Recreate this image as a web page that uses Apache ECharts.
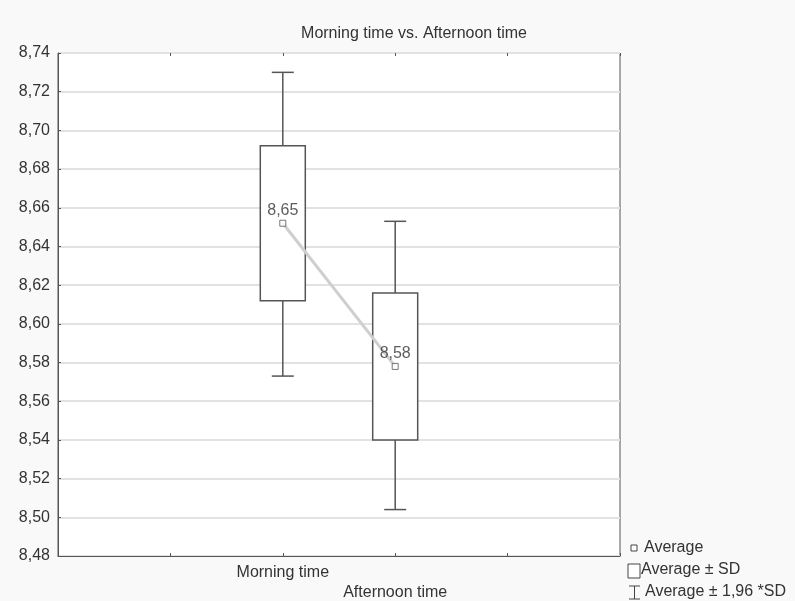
<!DOCTYPE html>
<html><head><meta charset="utf-8">
<script src="https://cdn.jsdelivr.net/npm/echarts@6/dist/echarts.min.js"></script>
<style>html,body{margin:0;padding:0;background:#f9f9f9}#c{width:795px;height:601px}</style>
</head><body><div id="c"></div>
<script>
var categories = ['Morning time', 'Afternoon time'];
var positions = [2, 3];
var means = [8.652, 8.578];
var sdLow = [8.612, 8.540];
var sdHigh = [8.692, 8.616];
var ciLow = [8.573, 8.504];
var ciHigh = [8.730, 8.653];
var yTicks = {min: 8.48, max: 8.74, interval: 0.02};

function fmt(v){ return v.toFixed(2).replace('.', ','); }

var boxData = positions.map(function(p,i){ return [p, sdLow[i], sdHigh[i], ciLow[i], ciHigh[i]]; });
var meanData = positions.map(function(p,i){ return [p, means[i]]; });

var FONT = 'Liberation Sans, Arial, sans-serif';
var chart = echarts.init(document.getElementById('c'));
chart.setOption({
  animation: false,
  backgroundColor: '#f9f9f9',
  title: {text: 'Morning time vs. Afternoon time', left: 409, top: 21, textAlign: 'center',
    textStyle: {fontSize: 16, fontWeight: 'normal', color: '#333', fontFamily: FONT}},
  grid: {left: 58, right: 175, top: 53, bottom: 45, show: true, backgroundColor: '#fff', borderColor: '#555', borderWidth: 1},
  xAxis: [{
    type: 'value', min: 0, max: 5, interval: 1,
    axisLine: {show: true, lineStyle: {color: '#555'}},
    axisTick: {show: true, inside: true, length: 3, lineStyle: {color: '#555'}},
    splitLine: {show: false},
    axisLabel: {
      margin: 9, color: '#333', fontFamily: FONT, fontSize: 16,
      formatter: function(v){
        var idx = positions.indexOf(v);
        if (idx < 0) return '';
        return idx === 0 ? '{a|' + categories[0] + '}' : '{b|' + categories[1] + '}';
      },
      rich: {a: {fontSize: 16, color: '#333', fontFamily: FONT},
             b: {fontSize: 16, color: '#333', fontFamily: FONT, padding: [20, 0, 0, 0]}}
    }
  }, {
    type: 'value', min: 0, max: 5, interval: 1, position: 'top',
    axisLine: {show: false}, axisTick: {show: true, inside: true, length: 3, lineStyle: {color: '#555'}},
    axisLabel: {show: false}, splitLine: {show: false}
  }],
  yAxis: {
    type: 'value', min: yTicks.min, max: yTicks.max, interval: yTicks.interval,
    axisLine: {show: true, lineStyle: {color: '#555'}},
    axisTick: {show: true, inside: true, length: 3, lineStyle: {color: '#555'}},
    splitLine: {show: true, lineStyle: {color: '#e2e2e2', width: 2}},
    axisLabel: {color: '#333', fontFamily: FONT, fontSize: 16, margin: 8, formatter: fmt}
  },
  series: [
    {
      type: 'custom', data: boxData, z: 3,
      renderItem: function(params, api){
        var x = api.value(0);
        var lo = api.coord([x, api.value(1)]);
        var hi = api.coord([x, api.value(2)]);
        var cl = api.coord([x, api.value(3)]);
        var ch = api.coord([x, api.value(4)]);
        var bw = 45, cw = 22;
        var st = {stroke: '#555', lineWidth: 1.5, fill: null};
        return {type: 'group', children: [
          {type: 'line', shape: {x1: ch[0], y1: ch[1], x2: hi[0], y2: hi[1]}, style: st},
          {type: 'line', shape: {x1: lo[0], y1: lo[1], x2: cl[0], y2: cl[1]}, style: st},
          {type: 'line', shape: {x1: ch[0]-cw/2, y1: ch[1], x2: ch[0]+cw/2, y2: ch[1]}, style: st},
          {type: 'line', shape: {x1: cl[0]-cw/2, y1: cl[1], x2: cl[0]+cw/2, y2: cl[1]}, style: st},
          {type: 'rect', shape: {x: hi[0]-bw/2, y: hi[1], width: bw, height: lo[1]-hi[1]}, style: {stroke: '#555', lineWidth: 1.5, fill: '#fff'}}
        ]};
      }
    },
    {
      type: 'line', data: meanData, z: 4, symbol: 'none',
      lineStyle: {color: '#cfcfcf', width: 3}
    },
    {
      type: 'scatter', data: meanData, z: 5, symbol: 'rect', symbolSize: 6,
      itemStyle: {color: '#fff', borderColor: '#555', borderWidth: 1},
      label: {show: true, position: 'top', distance: 1, color: '#333', fontFamily: FONT, fontSize: 16,
        formatter: function(p){ return fmt(p.value[1]); }}
    }
  ],
  graphic: [
    {type: 'rect', shape: {x: 631, y: 545, width: 6, height: 6}, style: {stroke: '#444', fill: '#fff', lineWidth: 1}},
    {type: 'text', left: 644, top: 540, style: {text: 'Average', fill: '#333', font: '16px Liberation Sans, Arial, sans-serif'}},
    {type: 'rect', shape: {x: 628, y: 564, width: 12, height: 14}, style: {stroke: '#444', fill: '#fff', lineWidth: 1}},
    {type: 'text', left: 641, top: 562, style: {text: 'Average ± SD', fill: '#333', font: '16px Liberation Sans, Arial, sans-serif'}},
    {type: 'line', shape: {x1: 629, y1: 586, x2: 640, y2: 586}, style: {stroke: '#444', lineWidth: 1}},
    {type: 'line', shape: {x1: 634.5, y1: 586, x2: 634.5, y2: 599}, style: {stroke: '#444', lineWidth: 1}},
    {type: 'line', shape: {x1: 629, y1: 599, x2: 640, y2: 599}, style: {stroke: '#444', lineWidth: 1}},
    {type: 'text', left: 645, top: 584, style: {text: 'Average ± 1,96 *SD', fill: '#333', font: '16px Liberation Sans, Arial, sans-serif'}}
  ]
});
</script></body></html>
